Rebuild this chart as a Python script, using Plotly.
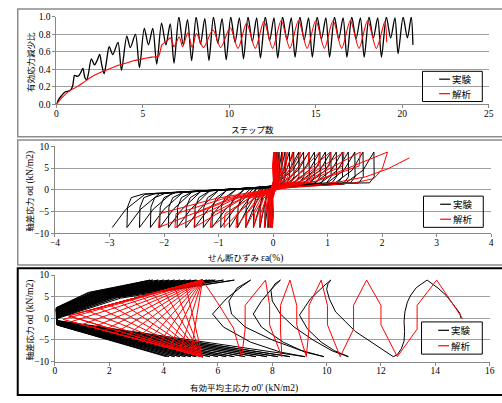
import plotly.graph_objects as go

W, H = 502, 403

# ---------------- Panel 1 data (step vs effective stress reduction ratio) ----------------
exp1_step = [0, 0.15, 0.3, 0.5, 0.7, 0.85, 0.95, 1.05, 1.2, 1.3, 1.4, 1.53, 1.65, 1.75, 1.85, 2.02, 2.2, 2.35, 2.5,
             2.62, 2.76, 2.9, 3.05, 3.26, 3.56, 3.76, 4.07, 4.27, 4.57, 4.8, 5.08, 5.32, 5.57, 5.8, 6.08, 6.33,
             6.58, 6.8, 7.08, 7.33, 7.58, 7.82, 8.08, 8.33, 8.58, 8.82, 9.08, 9.33, 9.58, 9.82, 10.08, 10.33,
             10.58, 10.82, 11.08, 11.33, 11.58, 11.8, 12.08, 12.33, 12.58, 12.8, 13.08, 13.33, 13.58, 13.8,
             14.08, 14.33, 14.58, 14.8, 15.08, 15.33, 15.58, 15.8, 16.08, 16.33, 16.58, 16.8, 17.08, 17.33,
             17.58, 17.8, 18.08, 18.33, 18.58, 18.8, 19.08, 19.33, 19.58, 19.76, 20.05, 20.3, 20.52, 20.62]
exp1_ratio = [0, 0.06, 0.1, 0.14, 0.15, 0.17, 0.22, 0.33, 0.32, 0.33, 0.36, 0.41, 0.3, 0.28, 0.35, 0.52, 0.45, 0.5,
              0.57, 0.45, 0.35, 0.5, 0.66, 0.57, 0.71, 0.39, 0.78, 0.65, 0.8, 0.42, 0.87, 0.68, 0.87, 0.46, 0.93,
              0.68, 0.92, 0.47, 1.0, 0.68, 0.97, 0.5, 1.0, 0.69, 0.98, 0.5, 1.0, 0.7, 0.98, 0.51, 1.0, 0.71, 0.99,
              0.52, 1.0, 0.72, 0.99, 0.53, 1.0, 0.73, 0.99, 0.53, 1.0, 0.74, 0.99, 0.54, 1.0, 0.74, 0.99, 0.54,
              1.0, 0.75, 0.99, 0.54, 1.0, 0.75, 0.99, 0.54, 1.0, 0.75, 0.99, 0.54, 1.0, 0.76, 0.99, 0.54, 1.0,
              0.76, 0.99, 0.58, 1.0, 0.76, 1.0, 0.68]
ana1_step = [0, 0.2, 0.5, 0.8, 1.1, 1.5, 2.0, 2.5, 3.0, 3.5, 4.0, 4.5, 5.0, 5.5, 5.9, 6.1, 6.35, 6.6, 6.8, 7.1,
             7.3, 7.6, 7.85, 8.1, 8.5, 9.05, 9.5, 10.05, 10.5, 11.0, 11.5, 12.0, 12.5, 13.0, 13.5, 14.0, 14.5,
             15.0, 15.5, 16.0, 16.5, 17.0, 17.5, 18.0, 18.5, 19.0, 19.1]
ana1_ratio = [0, 0.05, 0.11, 0.16, 0.19, 0.24, 0.31, 0.36, 0.4, 0.44, 0.47, 0.5, 0.52, 0.54, 0.55, 0.68, 0.72, 0.76,
              0.66, 0.77, 0.66, 0.82, 0.65, 0.81, 0.65, 0.85, 0.65, 0.88, 0.64, 0.93, 0.64, 0.95, 0.64, 0.96,
              0.64, 0.96, 0.64, 0.96, 0.64, 0.96, 0.64, 0.96, 0.64, 0.96, 0.64, 0.95, 0.71]

# ---------------- Panel 2 data (shear strain vs deviator stress) ----------------
exp2_eps_max = [0.02, 0.04, 0.07, 0.11, 0.16, 0.22, 0.3, 0.38, 0.47, 0.56, 0.66, 0.76, 0.86, 0.96, 1.06, 1.16,
                1.27, 1.38, 1.5, 1.65, 1.85]
exp2_eps_min = [-0.02, -0.05, -0.09, -0.15, -0.24, -0.36, -0.5, -0.65, -0.8, -0.96, -1.12, -1.28, -1.44, -1.6,
                -1.76, -1.92, -2.08, -2.25, -2.45, -2.68, -2.95]
ana2_eps_max = [0.01, 0.02, 0.03, 0.05, 0.08, 0.12, 0.18, 0.26, 0.36, 0.5, 0.66, 0.85, 1.05, 1.3, 1.6, 2.1]
ana2_eps_min = [-0.01, -0.02, -0.04, -0.06, -0.1, -0.16, -0.25, -0.36, -0.5, -0.68, -0.9, -1.15, -1.45, -1.8,
                -2.1, -2.4]
ana2_tail_eps = [2.0, 1.85, 1.5, 1.0, 0.5, 0.2, 0.6, 1.2, 1.7, 2.1, 2.5]
ana2_tail_sd = [4.7, 2.6, 1.6, 1.1, 0.7, 0.4, 0.9, 1.8, 3.0, 4.8, 7.35]
SD_PEAK = 8.7

# ---------------- Panel 3 data (effective mean stress vs deviator stress) ----------------
exp3_early_p = [14.95, 14.9, 14.75, 14.6, 14.4, 14.1, 13.9, 13.7,
                13.5, 13.3, 13.1, 12.97, 12.88, 12.85, 12.87, 12.85, 12.75, 12.6, 12.45,
                12.2, 11.77, 11.4, 11.05, 10.7, 10.33, 10.1, 10.0, 10.05, 10.15,
                9.9, 9.4, 9.0, 9.3, 9.8, 10.3, 10.8,
                10.2, 9.5, 8.8, 8.3, 8.0, 7.95, 8.1, 8.3,
                8.0, 7.6, 7.3, 7.6, 8.4, 9.2, 9.9,
                9.0, 8.0, 7.0, 6.5, 6.4, 6.7, 7.2,
                6.9, 6.3, 5.8, 6.2, 7.2, 8.3, 9.2]
exp3_early_q = [0, 1.2, 2.5, 3.8, 5.3, 7.0, 8.0, 8.85,
                8.0, 7.1, 5.4, 3.75, 1.5, -0.75, -3.0, -5.25, -7.0, -8.4, -8.85,
                -7.8, -6.0, -4.5, -3.0, -0.8, 1.5, 4.5, 6.75, 8.0, 8.85,
                7.5, 4.5, 0.75, -2.5, -5.5, -7.5, -8.85,
                -7.5, -5.0, -2.0, 1.0, 4.0, 6.5, 8.0, 8.85,
                7.0, 4.0, 1.0, -2.0, -5.5, -7.8, -8.85,
                -7.3, -5.0, -2.0, 1.0, 4.0, 7.0, 8.85,
                7.5, 4.5, 1.0, -2.0, -5.5, -7.8, -8.85]
exp3_late_top_p = [6.6, 6.2, 5.9, 5.8, 5.7, 5.6, 5.4, 5.2, 5.0, 4.8, 4.6, 4.4, 4.2, 4.0, 3.8, 3.6, 3.5]
exp3_late_top_q0 = [0.0, 0.2, 0.4, 0.6, 0.8, 1.0, 1.2, 1.4, 1.6, 1.8, 1.9, 2.0, 2.1, 2.2, 2.3, 2.4, 2.5]
exp3_late_bot_p = [8.65, 8.2, 7.8, 7.4, 7.0, 6.6, 6.3, 6.0, 5.7, 5.4, 5.2, 5.0, 4.8, 4.6, 4.4, 4.2, 4.1]
exp3_late_bot_q0 = [-0.5, -0.6, -0.7, -0.8, -0.85, -0.9, -1.0, -1.05, -1.1, -1.15, -1.2, -1.25, -1.3, -1.35,
                    -1.4, -1.45, -1.5]

ana3_top_p = [14.05, 11.47, 9.8, 8.65, 7.75]
ana3_desc_p = [13.33, 10.99, 9.35, 8.3, 7.0]
ana3_bot_p = [12.6, 10.5, 9.25, 8.35, 6.87]
ana3_asc_p = [12.0, 10.03, 8.9, 7.9]
ana3_link_p = [6.57, 5.97, 5.43]
ana3_link_q = [-2.25, 3.75, 8.85]
ana3_fan_p = [5.0, 4.6, 4.2, 3.8, 3.4, 3.0, 2.6, 2.2, 1.8, 1.4, 1.0, 0.6, 0.3]
ANA3_APEX_P = 5.43
SD3 = 8.85

# ---------------- build paths ----------------
def band(e):
    return 0.9 + (0.7 * e if e < 0 else 0.3 * e)

def exp2_path(emax_l, emin_l):
    xs, ys = [0.0], [0.0]
    for k in range(len(emax_l)):
        emax, emin = emax_l[k], emin_l[k]
        f = min(1.0, (emax - emin) / 1.5)
        if k > 0:
            prev = emin_l[k - 1]
            for dx, y in [(0.01 * f, -4.0), (0.08 * f, -1.8), (0.3 * f, band(prev + 0.3 * f) - 0.2)]:
                xs.append(prev + dx); ys.append(y)
        for dx, y in [(-0.55 * f, band(emax - 0.55 * f)), (-0.2 * f, 4.5), (-0.03 * f, 8.0), (0, SD_PEAK)]:
            xs.append(emax + dx); ys.append(y)
        for dx, y in [(0.005, 3.0), (-0.08 * f, 1.6), (-0.35 * f, band(emax - 0.35 * f) + 0.2)]:
            xs.append(emax + dx); ys.append(y)
        for dx, y in [(0.6 * f, band(emin + 0.6 * f) - 0.3), (0.25 * f, -4.5), (0.03 * f, -8.0), (0, -SD_PEAK)]:
            xs.append(emin + dx); ys.append(y)
    return xs, ys

def ana2_path(emax_l, emin_l):
    xs, ys = [0.0], [0.0]
    for k in range(len(emax_l)):
        emax, emin = emax_l[k], emin_l[k]
        if k > 0:
            prev = emin_l[k - 1]
            xs += [prev + 0.02, prev * 0.5, 0.05]; ys += [-5.5, -2.0, 0.3]
        xs += [emax * 0.35 + 0.05, emax]; ys += [2.0, SD_PEAK]
        if k < len(emax_l) - 1:
            xs += [emax - 0.02, emax * 0.5, -0.05]; ys += [5.5, 2.0, -0.3]
            xs += [emin * 0.35 - 0.05, emin]; ys += [-2.0, -SD_PEAK]
    xs += ana2_tail_eps; ys += ana2_tail_sd
    return xs, ys

def exp3_path():
    xs, ys = list(exp3_early_p), list(exp3_early_q)
    for k in range(len(exp3_late_top_p)):
        pt, qt = exp3_late_top_p[k], exp3_late_top_q0[k]
        pb, qb = exp3_late_bot_p[k], exp3_late_bot_q0[k]
        mid_p, mid_q = pt * 0.35, qt + (SD3 - qt) * 0.55
        xs += [0.08, 0.05, mid_p, pt, mid_p + 0.1, 0.05, 0.08, pb]
        ys += [qb, qt, mid_q, SD3, mid_q - 0.2, qt - 0.1, qb - 0.05, -SD3]
    return xs, ys

def ana3_path():
    xs, ys = [15.0], [0.0]
    for k in range(len(ana3_top_p)):
        if k > 0:
            v = ana3_asc_p[k - 1]
            xs += [v, v]; ys += [-1.5, 3.0]
        xs.append(ana3_top_p[k]); ys.append(SD3)
        v = ana3_desc_p[k]
        xs += [v, v, ana3_bot_p[k]]; ys += [3.0, -2.5, -SD3]
    xs += ana3_link_p; ys += ana3_link_q
    slope = SD3 / (ANA3_APEX_P - 0.15)
    for i, pk in enumerate(ana3_fan_p):
        xs += [pk, ANA3_APEX_P]; ys += [-slope * (pk - 0.15), -SD3]
        pk2 = ana3_fan_p[min(i + 1, len(ana3_fan_p) - 1)] + 0.2
        xs += [pk2, ANA3_APEX_P]; ys += [slope * (pk2 - 0.15), SD3]
    return xs, ys

fig = go.Figure()
BLK, RED = "#000000", "#ff0000"

fig.add_trace(go.Scatter(x=exp1_step, y=exp1_ratio, mode="lines", name="実験",
                         line=dict(color=BLK, width=1.3, shape="spline", smoothing=0.8), xaxis="x", yaxis="y"))
fig.add_trace(go.Scatter(x=ana1_step, y=ana1_ratio, mode="lines", name="解析",
                         line=dict(color=RED, width=1.1, shape="spline", smoothing=0.8), xaxis="x", yaxis="y"))

ex, ey = exp2_path(exp2_eps_max, exp2_eps_min)
ax_, ay_ = ana2_path(ana2_eps_max, ana2_eps_min)
fig.add_trace(go.Scatter(x=ex, y=ey, mode="lines", name="実験", line=dict(color=BLK, width=1), xaxis="x2", yaxis="y2"))
fig.add_trace(go.Scatter(x=ax_, y=ay_, mode="lines", name="解析", line=dict(color=RED, width=1), xaxis="x2", yaxis="y2"))

e3x, e3y = exp3_path()
a3x, a3y = ana3_path()
fig.add_trace(go.Scatter(x=e3x, y=e3y, mode="lines", name="実験", line=dict(color=BLK, width=1), xaxis="x3", yaxis="y3"))
fig.add_trace(go.Scatter(x=a3x, y=a3y, mode="lines", name="解析", line=dict(color=RED, width=1), xaxis="x3", yaxis="y3"))

def PX(x):
    return x / W

def PY(y):
    return 1 - y / H

def xd(a, b):
    return [PX(a), PX(b)]

def yd(top, bottom):
    return [PY(bottom), PY(top)]

TICKF = dict(family="Liberation Serif", size=9.5, color="#000")
GRID = "#a0a0a0"
common_x = dict(showgrid=False, zeroline=False, showline=True, linecolor="#888", linewidth=1,
                ticks="outside", ticklen=3, tickcolor="#888", tickfont=TICKF, ticklabelstandoff=-3)
common_y = dict(showgrid=True, gridcolor=GRID, gridwidth=1, zeroline=False, showline=True, linecolor="#888",
                linewidth=1, ticks="outside", ticklen=3, tickcolor="#888", tickfont=TICKF)

fig.update_layout(
    width=W, height=H, margin=dict(l=0, r=0, t=0, b=0), paper_bgcolor="white", plot_bgcolor="white",
    showlegend=False,
    xaxis=dict(domain=xd(52.5, 493.5), range=[0, 25], tickvals=[0, 5, 10, 15, 20, 25], anchor="y", **common_x),
    yaxis=dict(domain=yd(12.3, 101.7), range=[0, 1], tickvals=[0, 0.2, 0.4, 0.6, 0.8, 1.0],
               ticktext=["0.0", "0.2", "0.4", "0.6", "0.8", "1.0"], anchor="x", **common_y),
    xaxis2=dict(domain=xd(51, 496), range=[-4, 4], tickvals=list(range(-4, 5)), anchor="y2", **common_x),
    yaxis2=dict(domain=yd(145, 234), range=[-10, 10], tickvals=[-10, -5, 0, 5, 10], anchor="x2", **common_y),
    xaxis3=dict(domain=xd(51, 494.5), range=[0, 16], tickvals=list(range(0, 17, 2)), anchor="y3", **common_x),
    yaxis3=dict(domain=yd(277, 365.7), range=[-10, 10], tickvals=[-10, -5, 0, 5, 10], anchor="x3", **common_y),
)

shapes = []
annots = []
CJK = "Noto Sans CJK JP"
SERIF_SPAN = '<span style="font-family:Liberation Serif;font-size:9.5px">%s</span>'

def rect(x0, y0, x1, y1, color, width):
    shapes.append(dict(type="rect", xref="paper", yref="paper", x0=PX(x0), x1=PX(x1),
                       y0=PY(y1), y1=PY(y0), line=dict(color=color, width=width), fillcolor="rgba(0,0,0,0)",
                       layer="above"))

def line(x0, y0, x1, y1, color, width=1):
    shapes.append(dict(type="line", xref="paper", yref="paper", x0=PX(x0), x1=PX(x1),
                       y0=PY(y0), y1=PY(y1), line=dict(color=color, width=width), layer="above"))

def text(x, y, s, angle=0, size=8.5, anchor="center", color="#000"):
    annots.append(dict(xref="paper", yref="paper", x=PX(x), y=PY(y), text=s, showarrow=False,
                       textangle=angle, xanchor=anchor, yanchor="middle",
                       font=dict(family=CJK, size=size, color=color)))

# panel frames
rect(13, 4, 520, 135, "#8c8c8c", 1.5)
rect(13, 138.5, 520, 266.5, "#8c8c8c", 1.5)
rect(13, 270, 520, 400, "#000000", 2)

# legends
for (bx0, by0, bx1, by1) in [(426, 68, 487, 99), (427, 196, 488, 228), (425, 325, 487, 358)]:
    rect(bx0, by0, bx1, by1, "#000", 1)
    yb = by0 + (by1 - by0) * 0.26
    yr = by0 + (by1 - by0) * 0.74
    line(bx0 + 17, yb, bx0 + 28, yb, BLK, 1.2)
    line(bx0 + 17, yr, bx0 + 28, yr, RED, 1.2)
    text(bx0 + 28, yb, "実験", anchor="left", size=9.5)
    text(bx0 + 28, yr, "解析", anchor="left", size=9.5)

# axis titles
text(253, 127, "ステップ数")
text(25, 59, "有効応力減少比", angle=-90)
text(245, 259, "せん断ひずみ " + SERIF_SPAN % "εa(%)")
text(25, 191, "軸差応力 " + SERIF_SPAN % "σd (kN/m2)", angle=-90)
text(244, 392, "有効平均主応力 " + SERIF_SPAN % "σ0' (kN/m2)")
text(25, 323, "軸差応力 " + SERIF_SPAN % "σd (kN/m2)", angle=-90)

fig.update_layout(shapes=shapes, annotations=annots)
# the default page body has an 8px margin; remove it so the 502x403 figure fills the window
fig.write_html("out.html", config={"displayModeBar": False, "staticPlot": True},
               post_script="document.body.style.margin='0';")
